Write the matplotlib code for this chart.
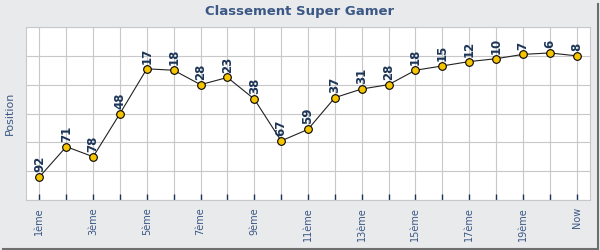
import matplotlib
matplotlib.use("Agg")
import matplotlib.pyplot as plt
from matplotlib.lines import Line2D

# Data
categories = [f"{i}ème" for i in range(1, 21)] + ["Now"]
positions = [92, 71, 78, 48, 17, 18, 28, 23, 38, 67, 59, 37, 31, 28, 18, 15, 12, 10, 7, 6, 8]
y_grid = [-12, 8, 28, 48, 68, 88, 108]

text_col = "#3b5785"
label_col = "#1c3558"

fig = plt.figure(figsize=(6, 2.5), dpi=100)
fig.patch.set_facecolor("#e9eaec")
ax = fig.add_axes([26 / 600, 50 / 250, 564 / 600, 173 / 250])
ax.set_facecolor("white")

x = list(range(len(positions)))
ax.plot(x, positions, color="#222222", lw=0.8, zorder=3,
        marker="o", markersize=5.5, markerfacecolor="#f7c500",
        markeredgecolor="black", markeredgewidth=0.8)

for xi, v in zip(x, positions):
    ax.annotate(str(v), (xi, v), xytext=(0, 3.5), textcoords="offset points",
                rotation=90, ha="center", va="bottom", fontsize=8.5,
                fontweight="bold", color=label_col, zorder=4)

ax.set_xlim(-0.5, len(positions) - 0.5)
ax.set_ylim(y_grid[-1], y_grid[0])
ax.set_yticks(y_grid)
ax.set_xticks(x)
ax.set_xticklabels([c if i % 2 == 0 else "" for i, c in enumerate(categories)],
                   rotation=90, fontsize=7, color=text_col)
ax.tick_params(axis="x", direction="in", length=4, width=1, color="#1c3558", pad=5)
ax.tick_params(axis="y", length=0, labelleft=False)
ax.grid(True, color="#c8c8c8", lw=0.8, zorder=0)
ax.set_axisbelow(True)
for s in ax.spines.values():
    s.set_color("#c8c8c8")
    s.set_linewidth(0.8)

fig.text(0.5, 1 - 12 / 250, "Classement Super Gamer", ha="center", va="center",
         fontsize=9.5, fontweight="bold", color=text_col)
fig.text(10 / 600, 1 - 113 / 250, "Position", rotation=90, ha="center", va="center",
         fontsize=8, color=text_col)

# frame shadow on right and bottom
fig.add_artist(Line2D([597.5 / 600, 597.5 / 600], [2 / 250, 1 - 4 / 250],
                      transform=fig.transFigure, color="#6e6e6e", lw=1.5))
fig.add_artist(Line2D([3 / 600, 598 / 600], [1.5 / 250, 1.5 / 250],
                      transform=fig.transFigure, color="#6e6e6e", lw=1.5))

fig.savefig("out.png", dpi=100, facecolor=fig.get_facecolor())
